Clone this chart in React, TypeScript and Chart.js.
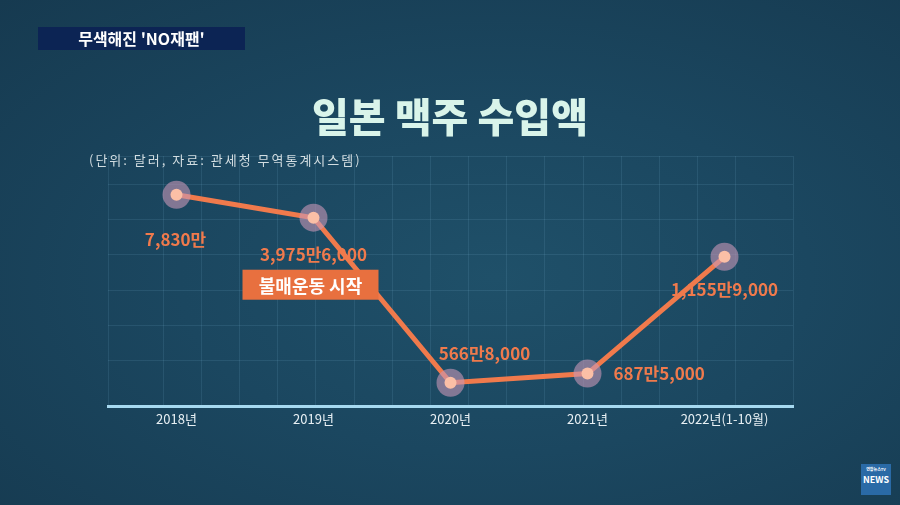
import { useEffect, useRef } from "react";
import { Chart, registerables } from "chart.js";

Chart.register(...registerables);

// 연도별 일본 맥주 수입액 (단위: 달러)
const years = ["2018년", "2019년", "2020년", "2021년", "2022년(1-10월)"];
const amounts = [78300000, 39756000, 5668000, 6875000, 11559000];
// the graphic is not drawn to scale: heights, in grid rows
const drawnLevel = [4.7, 4.05, -0.63, -0.37, 2.94];
const eventYearIndex = 1;
const eventLabel = "불매운동 시작";

const KR = '"Noto Sans CJK KR", "Noto Sans", sans-serif';
const ORANGE = "#f07a4c";

const fmtMan = (v: number) => {
  const man = Math.floor(v / 10000);
  const rest = v % 10000;
  return `${man.toLocaleString("en-US")}만` + (rest ? rest.toLocaleString("en-US") : "");
};

// label placement relative to each point (px)
const labelOffsets: [number, number, CanvasTextAlign][] = [
  [-1, 45, "center"],
  [0, 37, "center"],
  [34, -29, "center"],
  [26, 0, "left"],
  [0, 33, "center"],
];

const labelPlugin = {
  id: "amountLabels",
  afterDatasetsDraw(chart: any) {
    const ctx = chart.ctx;
    const pts = chart.getDatasetMeta(0).data;
    ctx.save();
    ctx.textBaseline = "middle";
    pts.forEach((p: any, i: number) => {
      const [dx, dy, align] = labelOffsets[i];
      ctx.font = `bold 17px ${KR}`;
      ctx.fillStyle = ORANGE;
      ctx.textAlign = align;
      ctx.fillText(fmtMan(amounts[i]), p.x + dx, p.y + dy);
    });
    // event box
    const e = pts[eventYearIndex];
    const cx = e.x - 3;
    const cy = e.y + 67;
    ctx.fillStyle = "#e8703f";
    ctx.fillRect(cx - 68, cy - 15, 136, 30);
    ctx.font = `bold 18px ${KR}`;
    ctx.fillStyle = "#ffffff";
    ctx.textAlign = "center";
    ctx.fillText(eventLabel, cx, cy + 1);
    ctx.restore();
  },
};

export default function App() {
  const canvasRef = useRef<HTMLCanvasElement | null>(null);

  useEffect(() => {
    if (!canvasRef.current) return;
    const chart = new Chart(canvasRef.current, {
      type: "line",
      data: {
        labels: years,
        datasets: [
          {
            data: drawnLevel,
            borderColor: ORANGE,
            borderWidth: 5,
            pointRadius: 0,
            order: 2,
          },
          {
            data: drawnLevel,
            showLine: false,
            pointRadius: 14,
            pointBackgroundColor: "rgba(200,152,184,0.6)",
            pointBorderWidth: 0,
            order: 1,
          },
          {
            data: drawnLevel,
            showLine: false,
            pointRadius: 6,
            pointBackgroundColor: "#fbbfa6",
            pointBorderWidth: 0,
            order: 0,
          },
        ],
      },
      options: {
        responsive: false,
        animation: false,
        layout: { padding: { top: 156, left: 108, right: 107, bottom: 73 } },
        plugins: { legend: { display: false }, tooltip: { enabled: false } },
        scales: {
          x: {
            offset: true,
            grid: { display: false, drawTicks: false },
            border: { color: "#a6d9f0", width: 3 },
            ticks: { color: "#e8f0f4", font: { family: KR, size: 13 }, padding: 5 },
          },
          xg: {
            type: "linear",
            position: "top",
            min: -1.45,
            max: 16.5,
            ticks: { display: false, stepSize: 1 },
            border: { display: false },
            grid: { color: "rgba(140,200,230,0.12)", drawTicks: false },
          },
          y: {
            min: -1.3,
            max: 5.8,
            ticks: { display: false, stepSize: 1 },
            border: { display: false },
            grid: { color: "rgba(140,200,230,0.12)", drawTicks: false },
          },
        },
      },
      plugins: [labelPlugin],
    });
    return () => chart.destroy();
  }, []);

  return (
    <div
      style={{
        position: "fixed",
        left: 0,
        top: 0,
        width: 900,
        height: 505,
        overflow: "hidden",
        fontFamily: KR,
        background:
          "radial-gradient(ellipse at 55% 55%, #1f5069 0%, #1b4760 45%, #163a50 100%)",
      }}
    >
      <canvas ref={canvasRef} width={900} height={505} style={{ position: "absolute", left: 0, top: 0 }} />
      <div
        style={{
          position: "absolute",
          left: 38,
          top: 27,
          width: 207,
          height: 23,
          background: "#0c2454",
          color: "#fff",
          fontWeight: 700,
          fontSize: 16,
          lineHeight: "23px",
          textAlign: "center",
        }}
      >
        무색해진 'NO재팬'
      </div>
      <div
        style={{
          position: "absolute",
          left: 0,
          width: 900,
          top: 91,
          textAlign: "center",
          color: "#d9f4ea",
          fontWeight: 900,
          fontSize: 40,
          lineHeight: "48px",
        }}
      >
        일본 맥주 수입액
      </div>
      <div
        style={{
          position: "absolute",
          left: 89,
          top: 150,
          color: "#d2dde1",
          fontSize: 13,
          letterSpacing: 2,
          lineHeight: "20px",
        }}
      >
        (단위: 달러, 자료: 관세청 무역통계시스템)
      </div>
      <div
        style={{
          position: "absolute",
          left: 861,
          top: 464,
          width: 30,
          height: 31,
          background: "#2a6aa6",
          color: "#fff",
          fontSize: 9,
          fontWeight: 700,
          textAlign: "center",
          lineHeight: "12px",
        }}
      >
        <div style={{ fontSize: 4, lineHeight: "10px" }}>연합뉴스TV</div>
        NEWS
      </div>
    </div>
  );
}
